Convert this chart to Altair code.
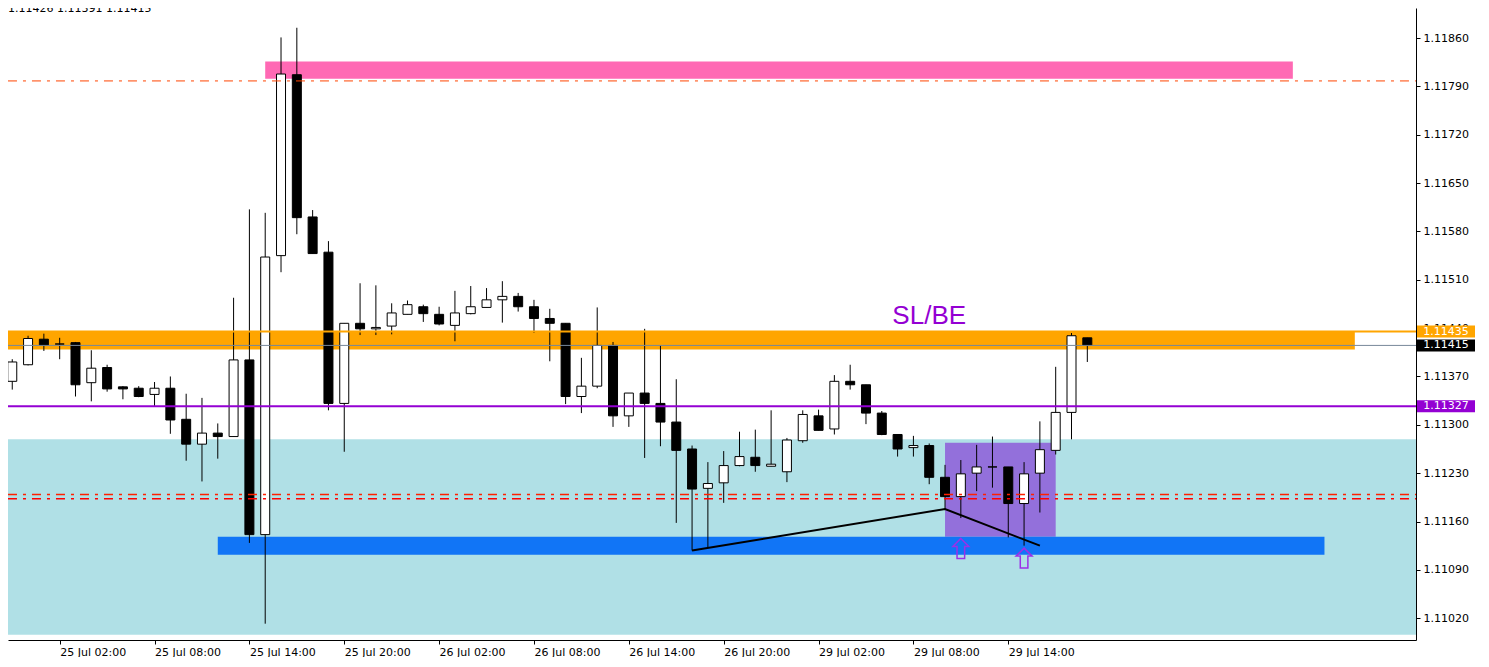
import altair as alt
import pandas as pd

W, H = 1408, 632

# ---------------- candle data (H1 bars, index 0 = 24 Jul 23:00) ----------------
candle_open = [1.11363, 1.11387, 1.11424, 1.11417, 1.11419, 1.11361, 1.11383, 1.11355, 1.11353, 1.11344,
               1.11353, 1.11308, 1.11272, 1.11288, 1.11283, 1.11394, 1.11141, 1.11545, 1.11807, 1.11601,
               1.11550, 1.11331, 1.11447, 1.11439, 1.11443, 1.11460, 1.11471, 1.11460, 1.11444, 1.11461,
               1.11470, 1.11481, 1.11486, 1.11471, 1.11454, 1.11447, 1.11341, 1.11356, 1.11415, 1.11313,
               1.11346, 1.11331, 1.11304, 1.11265, 1.11208, 1.11216, 1.11241, 1.11253, 1.11240, 1.11232,
               1.11277, 1.11313, 1.11294, 1.11363, 1.11358, 1.11317, 1.11286, 1.11267, 1.11270, 1.11224,
               1.11196, 1.11230, 1.11239, 1.11239, 1.11186, 1.11230, 1.11263, 1.11318, 1.11426]
candle_high = [1.11395, 1.11429, 1.11432, 1.11426, 1.11420, 1.11408, 1.11387, 1.11356, 1.11356, 1.11362,
               1.11370, 1.11345, 1.11339, 1.11302, 1.11484, 1.11612, 1.11607, 1.11861, 1.11875, 1.11611,
               1.11566, 1.11447, 1.11505, 1.11502, 1.11476, 1.11480, 1.11474, 1.11471, 1.11494, 1.11501,
               1.11498, 1.11508, 1.11491, 1.11481, 1.11468, 1.11447, 1.11397, 1.11470, 1.11420, 1.11346,
               1.11439, 1.11415, 1.11366, 1.11270, 1.11246, 1.11262, 1.11290, 1.11293, 1.11321, 1.11281,
               1.11321, 1.11322, 1.11372, 1.11387, 1.11358, 1.11320, 1.11286, 1.11284, 1.11273, 1.11242,
               1.11249, 1.11271, 1.11283, 1.11239, 1.11246, 1.11305, 1.11384, 1.11433, 1.11426]
candle_low = [1.11351, 1.11386, 1.11407, 1.11395, 1.11341, 1.11334, 1.11348, 1.11337, 1.11340, 1.11327,
              1.11287, 1.11248, 1.11218, 1.11251, 1.11283, 1.11129, 1.11012, 1.11521, 1.11576, 1.11548,
              1.11321, 1.11261, 1.11430, 1.11430, 1.11431, 1.11460, 1.11449, 1.11444, 1.11421, 1.11460,
              1.11470, 1.11448, 1.11464, 1.11433, 1.11392, 1.11330, 1.11317, 1.11353, 1.11297, 1.11297,
              1.11252, 1.11269, 1.11158, 1.11118, 1.11122, 1.11187, 1.11240, 1.11232, 1.11240, 1.11217,
              1.11274, 1.11292, 1.11286, 1.11351, 1.11301, 1.11285, 1.11254, 1.11254, 1.11214, 1.11178,
              1.11165, 1.11204, 1.11209, 1.11137, 1.11125, 1.11173, 1.11257, 1.11279, 1.11391]
candle_close = [1.11391, 1.11425, 1.11415, 1.11417, 1.11358, 1.11382, 1.11352, 1.11352, 1.11341, 1.11353,
                1.11307, 1.11272, 1.11288, 1.11283, 1.11394, 1.11141, 1.11543, 1.11808, 1.11600, 1.11548,
                1.11331, 1.11447, 1.11439, 1.11441, 1.11462, 1.11474, 1.11461, 1.11446, 1.11462, 1.11471,
                1.11481, 1.11486, 1.11471, 1.11454, 1.11447, 1.11341, 1.11356, 1.11415, 1.11313, 1.11346,
                1.11331, 1.11304, 1.11263, 1.11207, 1.11215, 1.11241, 1.11254, 1.11241, 1.11243, 1.11278,
                1.11315, 1.11292, 1.11363, 1.11358, 1.11317, 1.11286, 1.11265, 1.11270, 1.11224, 1.11196,
                1.11229, 1.11239, 1.11239, 1.11186, 1.11229, 1.11264, 1.11318, 1.11429, 1.11415]

# ---------------- axis labels ----------------
time_ticks = [-3, 3, 9, 15, 21, 27, 33, 39, 45, 51, 57, 63]
time_labels = ["24 Jul 20:00", "25 Jul 02:00", "25 Jul 08:00", "25 Jul 14:00", "25 Jul 20:00",
               "26 Jul 02:00", "26 Jul 08:00", "26 Jul 14:00", "26 Jul 20:00", "29 Jul 02:00",
               "29 Jul 08:00", "29 Jul 14:00"]
price_ticks = [1.11020, 1.11090, 1.11160, 1.11230, 1.11300, 1.11370, 1.11440,
               1.11510, 1.11580, 1.11650, 1.11720, 1.11790, 1.11860]

# ---------------- drawn objects ----------------
zone_x1 = [-0.27, 16, 59, -0.27, 13]
zone_x2 = [88.79, 81, 66, 84.92, 83]
zone_low = [1.10996, 1.11801, 1.11138, 1.11409, 1.11112]
zone_high = [1.11279, 1.11826, 1.11274, 1.11436, 1.11138]
zone_color = ["#B0E0E6", "#FF69B4", "#9370DB", "#FFA500", "#1175F6"]

solid_price = [1.11435, 1.11415, 1.11327]
solid_color = ["#FFA500", "#778899", "#9400D3"]
solid_width = [2, 1, 2]

dash_price = [1.11798]
dash_color = ["#FF4500"]

red_price = [1.11199, 1.11193]
red_color = ["#FF2000", "#FF0000"]

trend_idx = [43, 59, 65]
trend_price = [1.11118, 1.11178, 1.11125]

arrow_idx = [60, 64]
arrow_price = [1.11121, 1.11107]

label_price = [1.11435, 1.11415, 1.11327]
label_text = ["1.11435", "1.11415", "1.11327"]
label_color = ["#FFA500", "#000000", "#9400D3"]

note_idx = [58]
note_price = [1.11446]
note_text = ["SL/BE"]

header_text = "1.11426 1.11391 1.11415"

# ---------------- frames ----------------
n = len(candle_open)
candles = pd.DataFrame({"idx": list(range(n)), "open": candle_open, "high": candle_high,
                        "low": candle_low, "close": candle_close})
candles["body"] = ["white" if c >= o else "black" for o, c in zip(candle_open, candle_close)]

zones = pd.DataFrame({"x1": zone_x1, "x2": zone_x2, "y1": zone_low, "y2": zone_high, "color": zone_color})
solid = pd.DataFrame({"x1": [-0.27] * 3, "x2": [88.79] * 3, "price": solid_price,
                      "color": solid_color, "width": solid_width})
dashed = pd.DataFrame({"x1": [-0.27], "x2": [88.79], "price": dash_price, "color": dash_color})
reds = pd.DataFrame({"x1": [-0.27] * 2, "x2": [88.79] * 2, "price": red_price, "color": red_color})
trend = pd.DataFrame({"idx": trend_idx, "price": trend_price, "ord": list(range(len(trend_idx)))})
arrows = pd.DataFrame({"idx": arrow_idx, "price": arrow_price})
labels = pd.DataFrame({"price": label_price, "text": label_text, "color": label_color})
notes = pd.DataFrame({"idx": note_idx, "price": note_price, "text": note_text})
header = pd.DataFrame({"text": [header_text]})

# ---------------- scales / axes ----------------
FONT = "DejaVu Sans"
x_scale = alt.Scale(domain=[-0.269, 88.79], nice=False, zero=False, padding=0)
y_scale = alt.Scale(domain=[1.109884, 1.119036], nice=False, zero=False, padding=0)

label_expr = ("[" + ",".join(f"'{t}'" for t in time_labels) + "][indexof(["
              + ",".join(str(v) for v in time_ticks) + "], datum.value)]")

x_axis = alt.Axis(values=time_ticks, labelExpr=label_expr, orient="bottom", title=None, grid=False,
                  labelAlign="left", labelBaseline="top", labelPadding=2, tickSize=4,
                  labelFont=FONT, labelFontSize=11, labelColor="black", domainColor="black",
                  tickColor="black", domainWidth=1, tickWidth=1, labelOverlap=False,
                  labelFlush=False, labelBound=False)
y_axis = alt.Axis(values=price_ticks, format=".5f", orient="right", title=None, grid=False,
                  labelPadding=3, tickSize=4, labelFont=FONT, labelFontSize=11, labelColor="black",
                  domainColor="black", tickColor="black", domainWidth=1, tickWidth=1,
                  labelOverlap=False, labelFlush=False, labelBound=False)


def X(field):
    return alt.X(f"{field}:Q", scale=x_scale, axis=x_axis)


def Y(field):
    return alt.Y(f"{field}:Q", scale=y_scale, axis=y_axis)


# ---------------- layers ----------------
zone_layer = alt.Chart(zones).mark_rect().encode(
    x=X("x1"), x2="x2", y=Y("y1"), y2="y2", fill=alt.Fill("color:N", scale=None))

wick_layer = alt.Chart(candles).mark_rule(color="black", strokeWidth=1).encode(
    x=X("idx"), y=Y("low"), y2="high")

body_layer = alt.Chart(candles).mark_bar(size=9, stroke="black", strokeWidth=1).encode(
    x=X("idx"), y=Y("open"), y2="close", fill=alt.Fill("body:N", scale=None))

solid_layer = alt.Chart(solid).mark_rule().encode(
    x=X("x1"), x2="x2", y=Y("price"), stroke=alt.Stroke("color:N", scale=None),
    strokeWidth=alt.StrokeWidth("width:Q", scale=None))

dash_layer = alt.Chart(dashed).mark_rule(strokeDash=[9, 6, 3, 6], strokeWidth=1).encode(
    x=X("x1"), x2="x2", y=Y("price"), stroke=alt.Stroke("color:N", scale=None))

red_layer = alt.Chart(reds).mark_rule(strokeDash=[9, 6, 3, 6], strokeWidth=1.5,
                                      strokeCap="butt").encode(
    x=X("x1"), x2="x2", y=Y("price"), stroke=alt.Stroke("color:N", scale=None))

trend_layer = alt.Chart(trend).mark_line(color="black", strokeWidth=2).encode(
    x=X("idx"), y=Y("price"), order="ord:Q")

ARROW = "M0,-1L0.8,-0.2L0.38,-0.2L0.38,1L-0.38,1L-0.38,-0.2L-0.8,-0.2Z"
arrow_layer = alt.Chart(arrows).mark_point(shape=ARROW, size=400, filled=False, stroke="#9B30E8",
                                           strokeWidth=1.5, opacity=1).encode(
    x=X("idx"), y=Y("price"))

note_layer = alt.Chart(notes).mark_text(font="Liberation Sans", fontSize=26, color="#9400D3",
                                        align="center", baseline="alphabetic").encode(
    x=X("idx"), y=Y("price"), text="text:N")

BOX = "M-1,-0.207L1,-0.207L1,0.207L-1,0.207Z"
box_layer = alt.Chart(labels).mark_point(shape=BOX, size=58 * 58, filled=True, strokeWidth=0,
                                         opacity=1).encode(
    x=alt.value(W + 30), y=Y("price"), fill=alt.Fill("color:N", scale=None))

box_text_layer = alt.Chart(labels).mark_text(font=FONT, fontSize=11, color="white", align="center",
                                             baseline="middle").encode(
    x=alt.value(W + 30), y=Y("price"), text="text:N")

header_layer = alt.Chart(header).mark_text(font=FONT, fontSize=11, color="black", align="left",
                                           baseline="alphabetic").encode(
    x=alt.value(0), y=alt.value(4), text="text:N")

chart = alt.layer(
    zone_layer, wick_layer, body_layer, solid_layer, dash_layer, red_layer, trend_layer,
    arrow_layer, note_layer, box_layer, box_text_layer, header_layer
).properties(
    width=W, height=H,
    padding={"left": 0, "top": 0, "right": 63, "bottom": 17},
    autosize=alt.AutoSizeParams(type="none"),
).configure_view(stroke=None)

chart.save("out.html", embed_options={"renderer": "svg", "actions": False})
